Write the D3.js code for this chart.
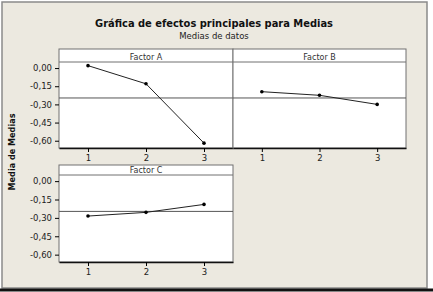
<!DOCTYPE html>
<html><head><meta charset="utf-8">
<script src="https://cdn.jsdelivr.net/npm/d3@7"></script>
<style>body{margin:0;background:#fff;}svg{display:block;}</style>
</head><body>
<svg id="c" width="433" height="292"></svg>
<script>
const factors = ["Factor A", "Factor B", "Factor C"];
const levels = [1, 2, 3];
const factorA = [0.02, -0.13, -0.62];
const factorB = [-0.195, -0.225, -0.30];
const factorC = [-0.285, -0.255, -0.19];
const grandMean = -0.247;
const yTicks = [0, -0.15, -0.30, -0.45, -0.60];
const title = "Gráfica de efectos principales para Medias";
const subtitle = "Medias de datos";
const yLabel = "Media de Medias";

const series = [factorA, factorB, factorC];
const svg = d3.select("#c");
const font = "'DejaVu Sans', Verdana, sans-serif";
const cfont = "'DejaVu Sans Condensed', 'DejaVu Sans', sans-serif";

// outer frame
svg.append("rect").attr("x", 2).attr("y", 2).attr("width", 425).attr("height", 286)
  .attr("fill", "#ECE9E0").attr("stroke", "#8a8a8a").attr("stroke-width", 1.5);
svg.append("line").attr("x1", 0).attr("x2", 433).attr("y1", 290).attr("y2", 290)
  .attr("stroke", "#111").attr("stroke-width", 3);

svg.append("text").attr("x", 214).attr("y", 27).attr("text-anchor", "middle")
  .attr("font-family", cfont).attr("font-weight", "bold").attr("font-size", 11).attr("fill", "#111").text(title);
svg.append("text").attr("x", 214).attr("y", 39).attr("text-anchor", "middle")
  .attr("font-family", font).attr("font-size", 8.5).attr("fill", "#222").text(subtitle);
svg.append("text").attr("transform", "translate(15,152) rotate(-90)").attr("text-anchor", "middle")
  .attr("font-family", cfont).attr("font-weight", "bold").attr("font-size", 9).attr("fill", "#111").text(yLabel);

// panel layout
const panels = [
  {x0: 59, x1: 233, top: 49, hb: 62, bottom: 148, showY: true},
  {x0: 233, x1: 406, top: 49, hb: 62, bottom: 148, showY: false},
  {x0: 59, x1: 233, top: 165, hb: 175, bottom: 262, showY: true}
];
const fmt = v => d3.format(".2f")(v).replace(".", ",").replace("−", "-");

panels.forEach((p, i) => {
  const x = d3.scaleLinear().domain([0.5, 3.5]).range([p.x0, p.x1]);
  const y = d3.scaleLinear().domain([-0.66, 0.05]).range([p.bottom, p.hb]);
  const g = svg.append("g");
  g.append("rect").attr("x", p.x0).attr("y", p.top).attr("width", p.x1 - p.x0).attr("height", p.bottom - p.top)
    .attr("fill", "#fff").attr("stroke", "#707070").attr("stroke-width", 1);
  g.append("line").attr("x1", p.x0).attr("x2", p.x1).attr("y1", p.hb).attr("y2", p.hb)
    .attr("stroke", "#707070").attr("stroke-width", 1);
  g.append("text").attr("x", (p.x0 + p.x1) / 2).attr("y", p.hb - 2.5).attr("text-anchor", "middle")
    .attr("font-family", font).attr("font-size", 8).attr("fill", "#333").text(factors[i]);
  // reference line
  g.append("line").attr("x1", p.x0).attr("x2", p.x1).attr("y1", y(grandMean)).attr("y2", y(grandMean))
    .attr("stroke", "#555").attr("stroke-width", 1);
  // x axis
  const xa = g.append("g").attr("transform", `translate(0,${p.bottom})`)
    .call(d3.axisBottom(x).tickValues(levels).tickSizeInner(4).tickSizeOuter(0).tickPadding(3).tickFormat(d3.format("d")));
  xa.select(".domain").attr("stroke", "#111").attr("stroke-width", 1.5);
  xa.selectAll("text").attr("font-family", font).attr("font-size", 8.5).attr("fill", "#222");
  if (p.showY) {
    const ya = g.append("g").attr("transform", `translate(${p.x0},0)`)
      .call(d3.axisLeft(y).tickValues(yTicks).tickSizeInner(4).tickSizeOuter(0).tickPadding(3).tickFormat(fmt));
    ya.select(".domain").remove();
    ya.selectAll("text").attr("font-family", font).attr("font-size", 8.5).attr("fill", "#222");
  }
  const line = d3.line().x((d, j) => x(levels[j])).y(d => y(d));
  g.append("path").datum(series[i]).attr("d", line).attr("fill", "none")
    .attr("stroke", "#222").attr("stroke-width", 1);
  g.selectAll("circle").data(series[i]).join("circle")
    .attr("cx", (d, j) => x(levels[j])).attr("cy", d => y(d)).attr("r", 1.8).attr("fill", "#000");
});
</script>
</body></html>
